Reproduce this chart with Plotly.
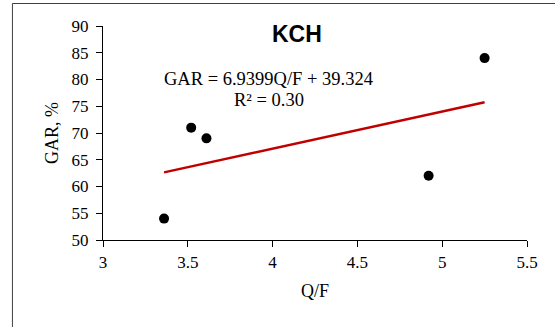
import plotly.graph_objects as go

# Data
qf = [3.36, 3.52, 3.61, 4.92, 5.25]
gar = [54, 71, 69, 62, 84]
slope = 6.9399
intercept = 39.324
r2_text = "R² = 0.30"
eq_text = "GAR = 6.9399Q/F + 39.324"
title_text = "KCH"
x_ticks = [3, 3.5, 4, 4.5, 5, 5.5]
y_ticks = [50, 55, 60, 65, 70, 75, 80, 85, 90]

trend_x = [min(qf), max(qf)]
trend_y = [intercept + slope * v for v in trend_x]

fig = go.Figure()
fig.add_trace(go.Scatter(x=trend_x, y=trend_y, mode="lines",
                         line=dict(color="#C00000", width=2.5),
                         showlegend=False, hoverinfo="skip"))
fig.add_trace(go.Scatter(x=qf, y=gar, mode="markers",
                         marker=dict(color="black", size=10),
                         showlegend=False))

W, H = 555, 327
L, R, T, B = 103, 28.3, 26, 87
pw = W - L - R
ph = H - T - B

def px_to_paper_x(px):
    return (px - L) / pw

def px_to_paper_y(py):
    return (H - B - py) / ph

serif = "Times New Roman, Liberation Serif, serif"

fig.update_layout(
    width=W, height=H, autosize=False,
    margin=dict(l=L, r=R, t=T, b=B, pad=0),
    paper_bgcolor="white", plot_bgcolor="white",
    font=dict(family=serif, color="black", size=17),
    xaxis=dict(range=[3, 5.5], tickvals=x_ticks, ticktext=[str(v) for v in x_ticks],
               showgrid=False, zeroline=False, showline=True, linecolor="black",
               linewidth=1.3, ticks="outside", ticklen=6, tickcolor="black",
               tickwidth=1.3, tickfont=dict(family=serif, size=17, color="black"),
               ticklabelstandoff=0,
               title=dict(text="Q/F", font=dict(family=serif, size=18), standoff=13)),
    yaxis=dict(range=[50, 90], tickvals=y_ticks,
               showgrid=False, zeroline=False, showline=True, linecolor="black",
               linewidth=1.3, ticks="outside", ticklen=6, tickcolor="black",
               tickwidth=1.3, tickfont=dict(family=serif, size=17, color="black"),
               ticklabelstandoff=4,
               title=dict(text="GAR, %", font=dict(family=serif, size=18), standoff=8)),
    shapes=[dict(type="rect", xref="paper", yref="paper",
                 x0=px_to_paper_x(12.5), x1=px_to_paper_x(600),
                 y0=px_to_paper_y(400), y1=px_to_paper_y(3.5),
                 line=dict(color="#404040", width=1), fillcolor="rgba(0,0,0,0)",
                 layer="below")],
    annotations=[
        dict(text="<b>" + title_text + "</b>", xref="paper", yref="paper",
             x=px_to_paper_x(297), y=px_to_paper_y(34), showarrow=False,
             xanchor="center", yanchor="middle",
             font=dict(family="Liberation Sans", size=23, color="black")),
        dict(text=eq_text, xref="paper", yref="paper",
             x=px_to_paper_x(268.5), y=px_to_paper_y(79), showarrow=False,
             xanchor="center", yanchor="middle",
             font=dict(family=serif, size=18.5, color="black")),
        dict(text=r2_text, xref="paper", yref="paper",
             x=px_to_paper_x(269), y=px_to_paper_y(100), showarrow=False,
             xanchor="center", yanchor="middle",
             font=dict(family=serif, size=18.5, color="black")),
    ],
)

fig.write_html("out.html")
